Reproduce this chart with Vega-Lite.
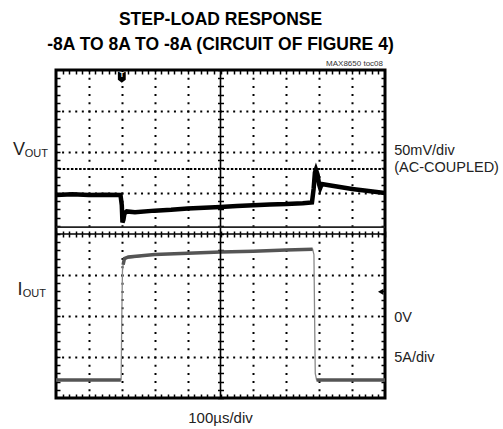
{
  "$schema": "https://vega.github.io/schema/vega-lite/v6.json",
  "width": 329,
  "height": 328,
  "autosize": "none",
  "padding": {"left": 56, "top": 70, "right": 118, "bottom": 31},
  "background": "white",
  "title": {
    "text": ["STEP-LOAD RESPONSE", "-8A TO 8A TO -8A (CIRCUIT OF FIGURE 4)"],
    "font": "Liberation Sans",
    "fontSize": 17.5,
    "fontWeight": "bold",
    "color": "black",
    "anchor": "middle",
    "lineHeight": 25,
    "offset": 7
  },
  "datasets": {
    "vout": [
      {"t": 0, "v": 0.95}, {"t": 0.5, "v": 0.97}, {"t": 1.0, "v": 0.95}, {"t": 1.5, "v": 0.96},
      {"t": 1.96, "v": 0.95}, {"t": 2.0, "v": 0.7}, {"t": 2.02, "v": 0.28}, {"t": 2.05, "v": 0.35},
      {"t": 2.08, "v": 0.5}, {"t": 2.15, "v": 0.55}, {"t": 2.4, "v": 0.53}, {"t": 3, "v": 0.57},
      {"t": 3.5, "v": 0.59}, {"t": 4, "v": 0.62}, {"t": 4.5, "v": 0.64}, {"t": 5, "v": 0.66},
      {"t": 5.5, "v": 0.68}, {"t": 6, "v": 0.7}, {"t": 6.5, "v": 0.72}, {"t": 7, "v": 0.73},
      {"t": 7.5, "v": 0.75}, {"t": 7.78, "v": 0.77}, {"t": 7.83, "v": 1.1}, {"t": 7.87, "v": 1.5},
      {"t": 7.9, "v": 1.57}, {"t": 7.95, "v": 1.45}, {"t": 8.0, "v": 1.2}, {"t": 8.03, "v": 1.12},
      {"t": 8.08, "v": 1.22}, {"t": 8.3, "v": 1.19}, {"t": 9, "v": 1.1}, {"t": 9.5, "v": 1.05},
      {"t": 10, "v": 1.0}
    ],
    "ioutThick": [
      {"seg": "a", "t": 0, "i": -3.56}, {"seg": "a", "t": 1.97, "i": -3.56},
      {"seg": "b", "t": 2.04, "i": -0.75}, {"seg": "b", "t": 2.08, "i": -0.6}, {"seg": "b", "t": 2.2, "i": -0.56},
      {"seg": "b", "t": 3, "i": -0.5}, {"seg": "b", "t": 4, "i": -0.47}, {"seg": "b", "t": 5, "i": -0.44},
      {"seg": "b", "t": 6, "i": -0.42}, {"seg": "b", "t": 7, "i": -0.39}, {"seg": "b", "t": 7.8, "i": -0.37},
      {"seg": "c", "t": 7.92, "i": -3.56}, {"seg": "c", "t": 10, "i": -3.56}
    ],
    "ioutThin": [
      {"t": 0, "i": -3.56}, {"t": 1.98, "i": -3.56}, {"t": 2.0, "i": -2.0}, {"t": 2.02, "i": -0.9},
      {"t": 2.05, "i": -0.68}, {"t": 2.1, "i": -0.6}, {"t": 3, "i": -0.5}, {"t": 5, "i": -0.44},
      {"t": 7.8, "i": -0.37}, {"t": 7.84, "i": -0.5}, {"t": 7.86, "i": -2.0}, {"t": 7.88, "i": -3.4},
      {"t": 7.92, "i": -3.56}, {"t": 10, "i": -3.56}
    ]
  },
  "resolve": {"axis": {"x": "independent", "y": "independent"}},
  "layer": [
    {
      "data": {"name": "vout"},
      "mark": {"type": "line", "color": "black", "strokeWidth": 4.5, "clip": true},
      "encoding": {
        "x": {"field": "t", "type": "quantitative", "scale": {"domain": [0, 10], "nice": false, "zero": false},
          "axis": {"values": [1, 2, 3, 4, 6, 7, 8, 9], "grid": true, "gridDash": [2, 6.2], "gridDashOffset": 1, "gridColor": "black", "gridWidth": 2, "gridOpacity": 1, "labels": false, "ticks": false, "domain": false, "title": null}},
        "y": {"field": "v", "type": "quantitative", "scale": {"domain": [-4, 4], "nice": false, "zero": false},
          "axis": {"values": [-3, -2, -1, 1, 2, 3], "grid": true, "gridDash": [2, 4.58], "gridDashOffset": 1, "gridColor": "black", "gridWidth": 2, "gridOpacity": 1, "labels": false, "ticks": false, "domain": false, "title": null}}
      }
    },
    {
      "data": {"name": "ioutThin"},
      "mark": {"type": "line", "color": "#8a8a8a", "strokeWidth": 1.3, "clip": true},
      "encoding": {
        "x": {"field": "t", "type": "quantitative",
          "axis": {"orient": "bottom", "offset": -164, "values": [0,0.2,0.4,0.6,0.8,1,1.2,1.4,1.6,1.8,2,2.2,2.4,2.6,2.8,3,3.2,3.4,3.6,3.8,4,4.2,4.4,4.6,4.8,5,5.2,5.4,5.6,5.8,6,6.2,6.4,6.6,6.8,7,7.2,7.4,7.6,7.8,8,8.2,8.4,8.6,8.8,9,9.2,9.4,9.6,9.8,10], "ticks": true, "tickSize": 3, "tickWidth": 1.5, "tickColor": "black", "labels": false, "domain": false, "grid": false, "title": null}},
        "y": {"field": "i", "type": "quantitative",
          "axis": {"orient": "left", "offset": -164.5, "values": [-4,-3.8,-3.6,-3.4,-3.2,-3,-2.8,-2.6,-2.4,-2.2,-2,-1.8,-1.6,-1.4,-1.2,-1,-0.8,-0.6,-0.4,-0.2,0,0.2,0.4,0.6,0.8,1,1.2,1.4,1.6,1.8,2,2.2,2.4,2.6,2.8,3,3.2,3.4,3.6,3.8,4], "ticks": true, "tickSize": 3, "tickWidth": 1.5, "tickColor": "black", "labels": false, "domain": false, "grid": false, "title": null}}
      }
    },
    {
      "data": {"name": "ioutThick"},
      "mark": {"type": "line", "color": "#555555", "strokeWidth": 3.5, "clip": true},
      "encoding": {
        "detail": {"field": "seg"},
        "x": {"field": "t", "type": "quantitative",
          "axis": {"orient": "top", "offset": -164, "values": [0,0.2,0.4,0.6,0.8,1,1.2,1.4,1.6,1.8,2,2.2,2.4,2.6,2.8,3,3.2,3.4,3.6,3.8,4,4.2,4.4,4.6,4.8,5,5.2,5.4,5.6,5.8,6,6.2,6.4,6.6,6.8,7,7.2,7.4,7.6,7.8,8,8.2,8.4,8.6,8.8,9,9.2,9.4,9.6,9.8,10], "ticks": true, "tickSize": 3, "tickWidth": 1.5, "tickColor": "black", "labels": false, "domain": false, "grid": false, "title": null}},
        "y": {"field": "i", "type": "quantitative",
          "axis": {"orient": "right", "offset": -164.5, "values": [-4,-3.8,-3.6,-3.4,-3.2,-3,-2.8,-2.6,-2.4,-2.2,-2,-1.8,-1.6,-1.4,-1.2,-1,-0.8,-0.6,-0.4,-0.2,0,0.2,0.4,0.6,0.8,1,1.2,1.4,1.6,1.8,2,2.2,2.4,2.6,2.8,3,3.2,3.4,3.6,3.8,4], "ticks": true, "tickSize": 3, "tickWidth": 1.5, "tickColor": "black", "labels": false, "domain": false, "grid": false, "title": null}}
      }
    },
    {
      "data": {"values": [{"x": 5}]},
      "mark": {"type": "rule", "color": "black", "strokeWidth": 1.6},
      "encoding": {
        "x": {"field": "x", "type": "quantitative",
          "axis": {"orient": "top", "offset": 0, "values": [0.2,0.4,0.6,0.8,1,1.2,1.4,1.6,1.8,2,2.2,2.4,2.6,2.8,3,3.2,3.4,3.6,3.8,4,4.2,4.4,4.6,4.8,5,5.2,5.4,5.6,5.8,6,6.2,6.4,6.6,6.8,7,7.2,7.4,7.6,7.8,8,8.2,8.4,8.6,8.8,9,9.2,9.4,9.6,9.8], "ticks": true, "tickSize": -4, "tickWidth": 1.5, "tickColor": "black", "labels": false, "domain": false, "grid": false, "title": null}}
      }
    },
    {
      "data": {"values": [{"y": 0}]},
      "mark": {"type": "rule", "color": "black", "strokeWidth": 1.6},
      "encoding": {
        "y": {"field": "y", "type": "quantitative",
          "axis": {"orient": "left", "offset": 0, "values": [-3.8,-3.6,-3.4,-3.2,-3,-2.8,-2.6,-2.4,-2.2,-2,-1.8,-1.6,-1.4,-1.2,-1,-0.8,-0.6,-0.4,-0.2,0,0.2,0.4,0.6,0.8,1,1.2,1.4,1.6,1.8,2,2.2,2.4,2.6,2.8,3,3.2,3.4,3.6,3.8], "ticks": true, "tickSize": -4, "tickWidth": 1.5, "tickColor": "black", "labels": false, "domain": false, "grid": false, "title": null}}
      }
    },
    {
      "data": {"values": [{"y": 0.17}]},
      "mark": {"type": "rule", "color": "#222222", "strokeWidth": 1.8},
      "encoding": {
        "y": {"field": "y", "type": "quantitative",
          "axis": {"orient": "right", "offset": 0, "values": [-3.8,-3.6,-3.4,-3.2,-3,-2.8,-2.6,-2.4,-2.2,-2,-1.8,-1.6,-1.4,-1.2,-1,-0.8,-0.6,-0.4,-0.2,0,0.2,0.4,0.6,0.8,1,1.2,1.4,1.6,1.8,2,2.2,2.4,2.6,2.8,3,3.2,3.4,3.6,3.8], "ticks": true, "tickSize": -4, "tickWidth": 1.5, "tickColor": "black", "labels": false, "domain": false, "grid": false, "title": null}}
      }
    },
    {
      "data": {"values": [{"y": 1.585}]},
      "mark": {"type": "rule", "color": "black", "strokeWidth": 2, "strokeDash": [2.5, 1.6]},
      "encoding": {
        "y": {"field": "y", "type": "quantitative", "axis": null}
      }
    },
    {
      "data": {"values": [{"x": 2.0, "y": 3.83}]},
      "mark": {"type": "point", "filled": true, "color": "black", "opacity": 1, "size": 110, "shape": "M-0.75,-1 L0.75,-1 L0.75,0.55 L0,1.1 L-0.75,0.55 Z"},
      "encoding": {
        "x": {"field": "x", "type": "quantitative",
          "axis": {"orient": "bottom", "offset": 0, "values": [0.2,0.4,0.6,0.8,1,1.2,1.4,1.6,1.8,2,2.2,2.4,2.6,2.8,3,3.2,3.4,3.6,3.8,4,4.2,4.4,4.6,4.8,5,5.2,5.4,5.6,5.8,6,6.2,6.4,6.6,6.8,7,7.2,7.4,7.6,7.8,8,8.2,8.4,8.6,8.8,9,9.2,9.4,9.6,9.8], "ticks": true, "tickSize": -4, "tickWidth": 1.5, "tickColor": "black", "labels": false, "domain": false, "grid": false, "title": null}},
        "y": {"field": "y", "type": "quantitative", "axis": null}
      }
    },
    {
      "data": {"values": [{"x": 2.0, "y": 3.87, "label": "T"}]},
      "mark": {"type": "text", "color": "white", "fontSize": 7, "fontWeight": "bold", "font": "Liberation Sans", "baseline": "middle", "align": "center"},
      "encoding": {
        "x": {"field": "x", "type": "quantitative", "axis": null},
        "y": {"field": "y", "type": "quantitative", "axis": null},
        "text": {"field": "label"}
      }
    },
    {
      "data": {"values": [{"x": 9.87, "y": -1.41}]},
      "mark": {"type": "point", "filled": true, "color": "black", "opacity": 1, "size": 40, "shape": "triangle-left"},
      "encoding": {
        "x": {"field": "x", "type": "quantitative", "axis": null},
        "y": {"field": "y", "type": "quantitative", "axis": null}
      }
    },
    {
      "data": {"values": [{"x": 9.94, "y": 4.14, "label": "MAX8650 toc08"}]},
      "mark": {"type": "text", "color": "#333333", "fontSize": 8, "font": "Liberation Sans", "align": "right", "baseline": "middle"},
      "encoding": {
        "x": {"field": "x", "type": "quantitative", "axis": null},
        "y": {"field": "y", "type": "quantitative", "axis": null},
        "text": {"field": "label"}
      }
    },
    {
      "data": {"values": [
        {"x": 10.28, "y": 2.02, "label": "50mV/div"},
        {"x": 10.28, "y": 1.6, "label": "(AC-COUPLED)"},
        {"x": 10.28, "y": -2.05, "label": "0V"},
        {"x": 10.28, "y": -3.02, "label": "5A/div"}
      ]},
      "mark": {"type": "text", "color": "#222222", "fontSize": 14.5, "font": "Liberation Sans", "align": "left", "baseline": "middle"},
      "encoding": {
        "x": {"field": "x", "type": "quantitative", "axis": null},
        "y": {"field": "y", "type": "quantitative", "axis": null},
        "text": {"field": "label"}
      }
    },
    {
      "data": {"values": [{"x": 5, "y": -4.49, "label": "100µs/div"}]},
      "mark": {"type": "text", "color": "#222222", "fontSize": 15, "font": "Liberation Sans", "align": "center", "baseline": "middle"},
      "encoding": {
        "x": {"field": "x", "type": "quantitative", "axis": null},
        "y": {"field": "y", "type": "quantitative", "axis": null},
        "text": {"field": "label"}
      }
    },
    {
      "data": {"values": [
        {"x": -0.94, "y": 2.05, "label": "V"},
        {"x": -1.02, "y": -1.36, "label": "I"}
      ]},
      "mark": {"type": "text", "color": "#222222", "fontSize": 18, "font": "Liberation Sans", "align": "right", "baseline": "middle"},
      "encoding": {
        "x": {"field": "x", "type": "quantitative", "axis": null},
        "y": {"field": "y", "type": "quantitative", "axis": null},
        "text": {"field": "label"}
      }
    },
    {
      "data": {"values": [
        {"x": -0.95, "y": 1.95, "label": "OUT"},
        {"x": -1.01, "y": -1.46, "label": "OUT"}
      ]},
      "mark": {"type": "text", "color": "#222222", "fontSize": 11, "font": "Liberation Sans", "align": "left", "baseline": "middle"},
      "encoding": {
        "x": {"field": "x", "type": "quantitative", "axis": null},
        "y": {"field": "y", "type": "quantitative", "axis": null},
        "text": {"field": "label"}
      }
    }
  ],
  "config": {
    "view": {"stroke": "black", "strokeWidth": 3},
    "axis": {"labels": false, "title": null}
  }
}
